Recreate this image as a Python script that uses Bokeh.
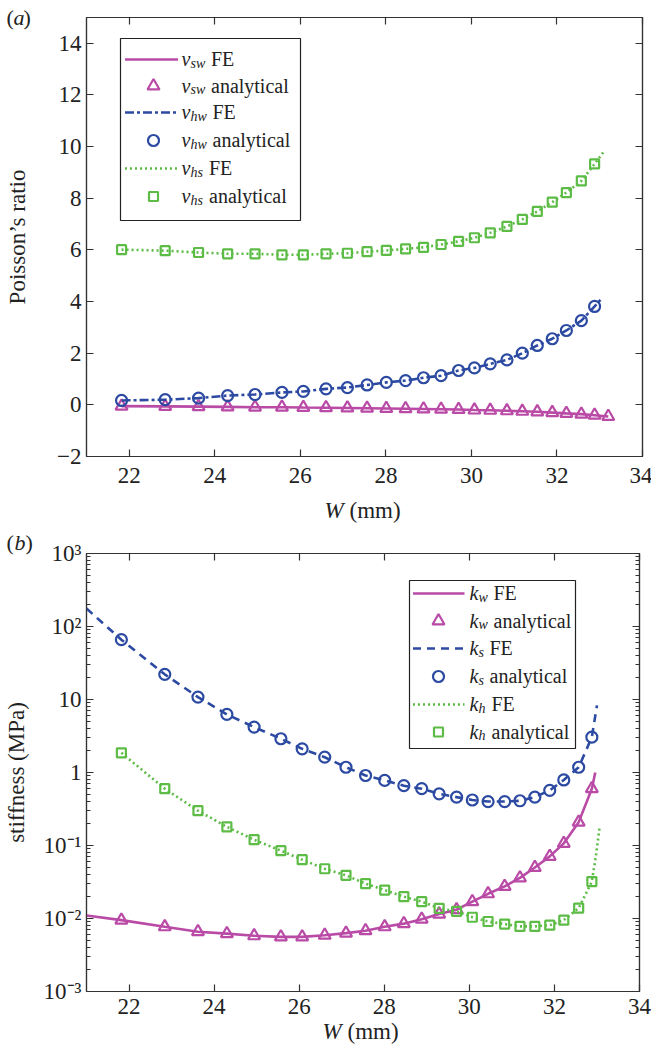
from bokeh.plotting import figure
from bokeh.layouts import column
from bokeh.models import Range1d, LinearAxis, LogAxis, Title, FixedTicker, CustomJSTickFormatter
from bokeh.embed import file_html
from bokeh.resources import INLINE
from bokeh.core.properties import value

# ---------------- data ----------------
W = [21.82, 22.84, 23.62, 24.30, 24.94, 25.57, 26.07, 26.60, 27.10, 27.56, 28.01, 28.46,
     28.88, 29.29, 29.70, 30.07, 30.44, 30.83, 31.19, 31.54, 31.89, 32.22, 32.57, 32.88]

# (a) Poisson's ratios, analytical
W_sw = W + [33.20]
v_sw = [-0.05, -0.06, -0.07, -0.08, -0.09, -0.09, -0.10, -0.11, -0.12, -0.13, -0.14, -0.15,
        -0.16, -0.17, -0.18, -0.20, -0.21, -0.23, -0.25, -0.27, -0.30, -0.33, -0.36, -0.40, -0.45]
v_hw = [0.17, 0.20, 0.26, 0.36, 0.40, 0.48, 0.52, 0.62, 0.67, 0.77, 0.87, 0.94,
        1.05, 1.13, 1.33, 1.43, 1.59, 1.74, 2.00, 2.30, 2.56, 2.88, 3.26, 3.81]
v_hs = [6.01, 5.97, 5.90, 5.85, 5.85, 5.81, 5.81, 5.85, 5.87, 5.93, 5.98, 6.04,
        6.10, 6.21, 6.33, 6.47, 6.66, 6.91, 7.18, 7.49, 7.85, 8.22, 8.67, 9.33]
# (a) FE curves
W_sw_FE = W_sw
v_sw_FE = v_sw
W_hw_FE = W + [33.06]
v_hw_FE = v_hw + [4.14]
W_hs_FE = W + [33.11]
v_hs_FE = v_hs + [9.84]

# (b) stiffness (MPa), analytical
k_w = [0.0095, 0.0077, 0.0066, 0.0062, 0.0058, 0.0056, 0.0056, 0.0059, 0.0063, 0.0068, 0.0077, 0.0085,
       0.0098, 0.0115, 0.0132, 0.017, 0.0218, 0.0275, 0.036, 0.050, 0.071, 0.107, 0.209, 0.60]
k_s = [66.0, 22.1, 10.8, 6.25, 4.19, 2.9, 2.11, 1.62, 1.18, 0.91, 0.78, 0.66,
       0.60, 0.51, 0.46, 0.42, 0.40, 0.40, 0.41, 0.46, 0.57, 0.79, 1.18, 3.05]
k_h = [1.86, 0.60, 0.30, 0.18, 0.12, 0.085, 0.064, 0.048, 0.039, 0.030, 0.0245, 0.0199,
       0.017, 0.0138, 0.0125, 0.0104, 0.0091, 0.0084, 0.0078, 0.0078, 0.0081, 0.0095, 0.0139, 0.032]
# (b) FE curves
W_kw_FE = [21.0] + W + [32.96]
k_w_FE = [0.011] + k_w + [1.0]
W_ks_FE = [21.0] + W + [33.0]
k_s_FE = [176.0] + k_s + [8.3]
W_kh_FE = W + [32.98, 33.06]
k_h_FE = k_h + [0.075, 0.175]

x_ticks = [22, 24, 26, 28, 30, 32, 34]
y_ticks_a = [-2, 0, 2, 4, 6, 8, 10, 12, 14]
y_ticks_b = [1e-3, 1e-2, 1e-1, 1.0, 10.0, 100.0, 1000.0]
y_tick_labels_b = ["10\u207b\u00b3", "10\u207b\u00b2", "10\u207b\u00b9", "1", "10", "10\u00b2", "10\u00b3"]
y_minor_b = [m * 10.0 ** e for e in range(-3, 3) for m in range(2, 10)]

legend_a = [("v", "sw", "FE"), ("v", "sw", "analytical"), ("v", "hw", "FE"),
            ("v", "hw", "analytical"), ("v", "hs", "FE"), ("v", "hs", "analytical")]
legend_b = [("k", "w", "FE"), ("k", "w", "analytical"), ("k", "s", "FE"),
            ("k", "s", "analytical"), ("k", "h", "FE"), ("k", "h", "analytical")]

# ---------------- style ----------------
FONT = "Liberation Serif"
PINK = "#b94aa6"
BLUE = "#2c4aa2"
GREEN = "#5cbc45"
INK = "#222222"
AX = "#333333"
DOT = "2 3"
DASHDOT = "9 3 3 3"
DASH = "8 6"

X0, X1 = 21, 34
H_A = 528                                             # height of figure (a)
FA = dict(left=82, right=638, top=17, bottom=456)     # frame (a), page px
FB = dict(left=82, right=635, top=553, bottom=991)    # frame (b), page px


def style_axes(p, xax, yax, x_standoff):
    p.xgrid.visible = False
    p.ygrid.visible = False
    p.outline_line_color = AX
    p.outline_line_width = 1.2
    for ax in p.axis:
        ax.axis_line_color = AX
        ax.axis_line_width = 1.2
        ax.major_tick_in = 7
        ax.major_tick_out = 0
        ax.minor_tick_in = 0
        ax.minor_tick_out = 0
        ax.major_tick_line_color = AX
        ax.major_tick_line_width = 1.2
        ax.major_label_text_font = FONT
        ax.major_label_text_color = INK
        ax.axis_label_text_font = FONT
        ax.axis_label_text_font_size = "23px"
        ax.axis_label_text_font_style = "normal"
        ax.axis_label_text_color = INK
    for ax in (xax, yax):
        ax.major_label_text_font_size = "23px"
    xax.major_label_standoff = x_standoff
    yax.major_label_standoff = 5


def add_mirror_axes(p, log=False):
    blank = CustomJSTickFormatter(code="return ''")
    top = LinearAxis(ticker=FixedTicker(ticks=x_ticks), formatter=blank)
    if log:
        right = LogAxis(ticker=FixedTicker(ticks=y_ticks_b, minor_ticks=y_minor_b), formatter=blank)
    else:
        right = LinearAxis(ticker=FixedTicker(ticks=y_ticks_a), formatter=blank)
    for ax in (top, right):
        ax.major_label_text_font_size = "0px"
        ax.major_label_standoff = 0
        ax.axis_label_standoff = 0
    p.add_layout(top, "above")
    p.add_layout(right, "right")


def px2x(px, F):
    return X0 + (px - F["left"]) / (F["right"] - F["left"]) * (X1 - X0)


def py2y_a(py):
    return -2 + (FA["bottom"] - py) / (FA["bottom"] - FA["top"]) * 17.0


def py2y_b(py):
    return 10 ** (-3 + (FB["bottom"] - py) / (FB["bottom"] - FB["top"]) * 6.0)


def spacer(p, side, px):
    # an empty, tiny title whose only job is to take px pixels in a side panel
    p.add_layout(Title(text=" ", text_font_size="1px", standoff=px - 3), side)


def side_texts(p, side, pieces, size, lift):
    # zero-height titles: several text pieces on one line beside the frame
    for txt, style, off in pieces:
        p.add_layout(Title(text=txt, align="left", offset=off, standoff=lift, vertical_align="middle",
                           text_font=FONT, text_font_size=size, text_font_style=style,
                           text_color=INK), side)


def draw_legend(p, F, py2y, box, rows_py, line_x, mark_x, text_x, items, styles, main_w, sub_w):
    l, t, r, b = box
    p.quad(left=[px2x(l, F)], right=[px2x(r, F)], top=[py2y(t)], bottom=[py2y(b)],
           fill_color="white", line_color=INK, line_width=1.2)
    for (main, sub, rest), py, st in zip(items, rows_py, styles):
        y = py2y(py)
        if st[0] == "line":
            p.line([px2x(line_x[0], F), px2x(line_x[1], F)], [y, y], line_color=st[1],
                   line_width=2.6, line_dash=st[2])
        else:
            p.scatter([px2x(mark_x, F)], [y], marker=st[0], size=st[2], fill_color=None,
                      line_color=st[1], line_width=2.2)
        ym = py2y(py - 0.5)
        ys = py2y(py + 3.5)
        p.text([px2x(text_x, F)], [ym], text=[main], text_font=value(FONT), text_font_size="20px",
               text_font_style="italic", text_color=INK, text_baseline="middle")
        p.text([px2x(text_x + main_w, F)], [ys], text=[sub], text_font=value(FONT),
               text_font_size="14px", text_font_style="italic", text_color=INK,
               text_baseline="middle")
        p.text([px2x(text_x + main_w + sub_w[sub] + 5, F)], [ym], text=[rest], text_font=value(FONT),
               text_font_size="20px", text_color=INK, text_baseline="middle")


# ---------------- figure (a) ----------------
pa = figure(frame_width=FA["right"] - FA["left"], frame_height=FA["bottom"] - FA["top"],
            x_range=Range1d(X0, X1), y_range=Range1d(-2, 15),
            output_backend="svg", toolbar_location=None,
            min_border_left=FA["left"], min_border_right=12, min_border_top=FA["top"],
            min_border_bottom=H_A - FA["bottom"])
xa_main, ya_main = pa.xaxis[0], pa.yaxis[0]
xa_main.ticker = FixedTicker(ticks=x_ticks)
ya_main.ticker = FixedTicker(ticks=y_ticks_a)
ya_main.axis_label = "Poisson\u2019s ratio"
ya_main.axis_label_standoff = 24
add_mirror_axes(pa)
style_axes(pa, xa_main, ya_main, 11)
side_texts(pa, "above", [("(", "normal", -80), ("a", "italic", -73), (")", "normal", -63)], "22px", -27)
spacer(pa, "below", 25)
side_texts(pa, "below", [("W", "italic", 238), ("(mm)", "normal", 263)], "23px", -28)

pa.line(W_sw_FE, v_sw_FE, line_color=PINK, line_width=2.6)
pa.scatter(W_sw, v_sw, marker="triangle", size=12, fill_color=None, line_color=PINK, line_width=2.2)
pa.line(W_hw_FE, v_hw_FE, line_color=BLUE, line_width=2.6, line_dash=DASHDOT)
pa.scatter(W, v_hw, marker="circle", size=11, fill_color=None, line_color=BLUE, line_width=2.2)
pa.line(W_hs_FE, v_hs_FE, line_color=GREEN, line_width=2.6, line_dash=DOT)
pa.scatter(W, v_hs, marker="square", size=9, fill_color=None, line_color=GREEN, line_width=2.2)

styles_a = [("line", PINK, "solid"), ("triangle", PINK, 12), ("line", BLUE, DASHDOT),
            ("circle", BLUE, 11), ("line", GREEN, DOT), ("square", GREEN, 9)]
draw_legend(pa, FA, py2y_a, (116, 38, 296, 220), [59, 85.5, 112, 140, 168, 196],
            (120.5, 173.5), 149, 177, legend_a, styles_a, 9.0,
            {"sw": 15.5, "hw": 17.0, "hs": 13.5})

# ---------------- figure (b) ----------------
pb = figure(frame_width=FB["right"] - FB["left"], frame_height=FB["bottom"] - FB["top"],
            x_range=Range1d(X0, X1), y_range=Range1d(1e-3, 1e3),
            y_axis_type="log", output_backend="svg", toolbar_location=None,
            min_border_left=FB["left"], min_border_right=15, min_border_top=FB["top"] - H_A,
            min_border_bottom=1050 - FB["bottom"])
xb_main, yb_main = pb.xaxis[0], pb.yaxis[0]
xb_main.ticker = FixedTicker(ticks=x_ticks)
yb_main.ticker = FixedTicker(ticks=y_ticks_b, minor_ticks=y_minor_b)
yb_main.major_label_overrides = dict(zip(y_ticks_b, y_tick_labels_b))
yb_main.axis_label = "stiffness (MPa)"
yb_main.axis_label_standoff = 12
add_mirror_axes(pb, log=True)
style_axes(pb, xb_main, yb_main, 7)
for ax in pb.yaxis:
    ax.minor_tick_in = 4
    ax.minor_tick_line_color = AX
    ax.minor_tick_line_width = 1.0
spacer(pb, "above", 11)
side_texts(pb, "above", [("(", "normal", -80), ("b", "italic", -72), (")", "normal", -61)], "22px", -27)
spacer(pb, "below", 15)
side_texts(pb, "below", [("W", "italic", 236), ("(mm)", "normal", 261)], "23px", -28)

pb.line(W_kw_FE, k_w_FE, line_color=PINK, line_width=2.6)
pb.scatter(W, k_w, marker="triangle", size=12, fill_color=None, line_color=PINK, line_width=2.2)
pb.line(W_ks_FE, k_s_FE, line_color=BLUE, line_width=2.6, line_dash=DASH)
pb.scatter(W, k_s, marker="circle", size=11, fill_color=None, line_color=BLUE, line_width=2.2)
pb.line(W_kh_FE, k_h_FE, line_color=GREEN, line_width=2.6, line_dash=DOT)
pb.scatter(W, k_h, marker="square", size=9, fill_color=None, line_color=GREEN, line_width=2.2)

styles_b = [("line", PINK, "solid"), ("triangle", PINK, 12), ("line", BLUE, DASH),
            ("circle", BLUE, 11), ("line", GREEN, DOT), ("square", GREEN, 9)]
draw_legend(pb, FB, py2y_b, (405, 580, 571, 748), [593, 620.5, 648, 676, 704, 731.5],
            (408.5, 460), 434, 465, legend_b, styles_b, 9.0,
            {"w": 10.0, "s": 6.0, "h": 8.0})

layout = column(pa, pb)
open("out.html", "w").write(file_html(layout, INLINE))
